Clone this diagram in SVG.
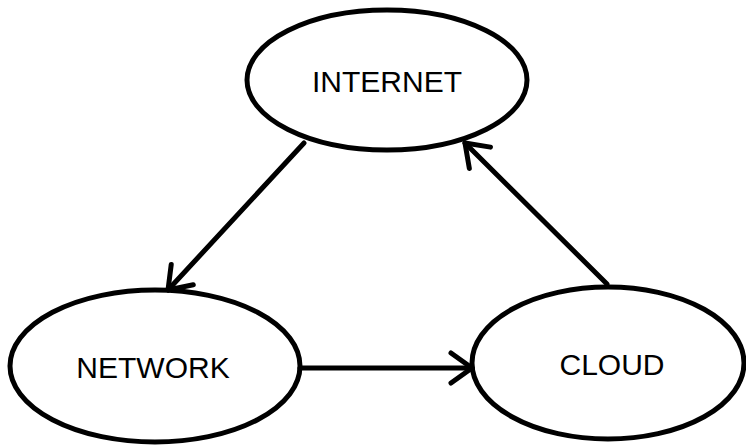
<svg xmlns="http://www.w3.org/2000/svg" width="746" height="446" viewBox="0 0 746 446">
<style>
.node ellipse{fill:#fff;stroke:#000;stroke-width:5}
.node text{font-family:"Liberation Sans",Arial,sans-serif;font-size:30px;fill:#000;text-anchor:middle}
.edge{fill:none;stroke:#000;stroke-width:5;stroke-linecap:round;marker-end:url(#arr)}
</style>
<defs>
<marker id="arr" markerUnits="userSpaceOnUse" viewBox="-26 -20 30 40" markerWidth="30" markerHeight="40" refX="0" refY="0" orient="auto" overflow="visible">
<path d="M-21,-15 L0,0 L-21,15" fill="none" stroke="#000" stroke-width="5" stroke-linecap="round" stroke-linejoin="round"/>
</marker>
</defs>
<rect width="746" height="446" fill="#fff"/>
<g id="node-internet" class="node">
<ellipse cx="387" cy="80" rx="140" ry="70"/>
<text x="387" y="92">INTERNET</text>
</g>
<g id="node-network" class="node">
<ellipse cx="155" cy="366" rx="145" ry="76"/>
<text x="153" y="378">NETWORK</text>
</g>
<g id="node-cloud" class="node">
<ellipse cx="608" cy="363" rx="136" ry="76"/>
<text x="612" y="375">CLOUD</text>
</g>
<g id="connectors">
<path class="edge" d="M304,143 L168,290"/>
<path class="edge" d="M300,368 L472,368"/>
<path class="edge" d="M607,284 L465,143"/>
</g>
</svg>
